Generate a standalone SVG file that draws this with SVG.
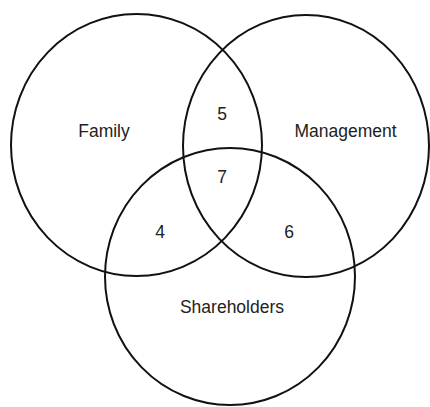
<svg xmlns="http://www.w3.org/2000/svg" width="430" height="407" viewBox="0 0 430 407">
<style>
.c{fill:none;stroke:#111;stroke-width:2}
.t{font-family:"Liberation Sans",Arial,sans-serif;font-size:17.5px;fill:#222;text-anchor:middle}
</style>
<rect width="430" height="407" fill="#fff"/>
<g id="family"><ellipse class="c" cx="136.5" cy="145" rx="125.5" ry="131"/><text class="t" x="104" y="137">Family</text></g>
<g id="management"><ellipse class="c" cx="306" cy="146" rx="123" ry="131"/><text class="t" x="345.5" y="137">Management</text></g>
<g id="shareholders"><ellipse class="c" cx="230" cy="276.5" rx="125" ry="128.5"/><text class="t" x="232" y="313">Shareholders</text></g>
<g id="labels">
<text class="t" x="222" y="120">5</text>
<text class="t" x="222" y="183">7</text>
<text class="t" x="160" y="238">4</text>
<text class="t" x="289" y="238">6</text>
</g>
<g id="connectors"/>
</svg>
